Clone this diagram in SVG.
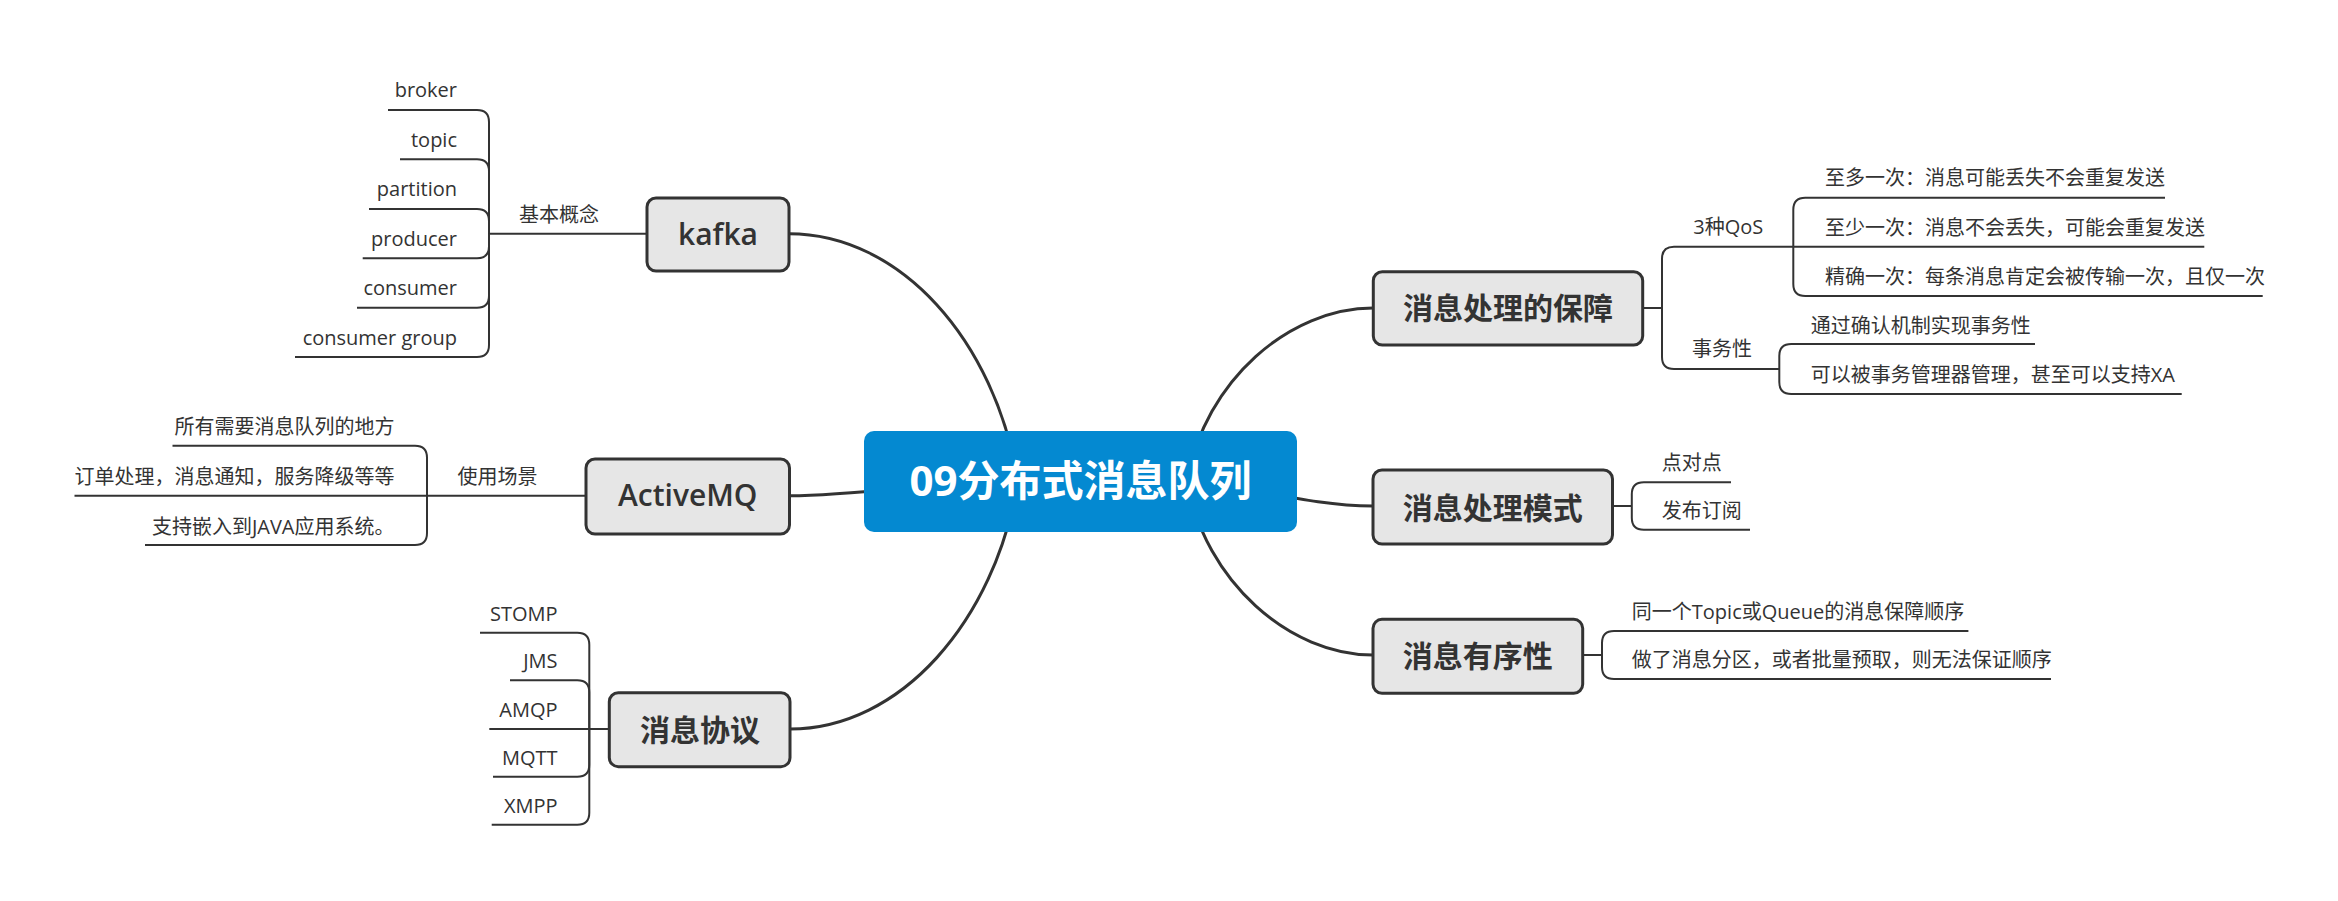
<svg xmlns="http://www.w3.org/2000/svg" width="2338" height="901" viewBox="0 0 2338 901">
<style>
  text { font-family: "Open Sans", "Noto Sans CJK SC", sans-serif; fill: #333333; }
  .leaf { font-size: 20px; }
  .leafL { font-size: 20px; text-anchor: end; }
  .lbl { font-size: 20px; }
  .box { fill: #e6e6e6; stroke: #333333; stroke-width: 3; }
  .nodeT { font-size: 30px; font-weight: 700; text-anchor: middle; }
  .nodeE { font-size: 30px; font-weight: 600; text-anchor: middle; }
  .main { fill: none; stroke: #333333; stroke-width: 3; }
  .sub { fill: none; stroke: #333333; stroke-width: 2; }
  .root { fill: #0489d1; }
  .rootT { font-size: 42px; font-weight: 700; text-anchor: middle; fill: #ffffff; }
</style>
<rect width="2338" height="901" fill="#ffffff"/>

<g id="connectors">
  <!-- main branches -->
  <path class="main" d="M789 233.7 C900 233.7 995 340 1018 481"/>
  <path class="main" d="M789.5 495.7 C860 495.7 940 481 1000 481"/>
  <path class="main" d="M790 729 C900 729 995 622 1018 481"/>
  <path class="main" d="M1373 308 C1290 308 1205 380 1187 481"/>
  <path class="main" d="M1373 506 C1300 506 1240 481 1180 481"/>
  <path class="main" d="M1373 655 C1290 655 1205 582 1187 481"/>

  <!-- kafka -->
  <path class="sub" d="M647 233.7 H489"/>
  <path class="sub" d="M489 233.7 V122 Q489 110 477 110 H388"/>
  <path class="sub" d="M489 233.7 V171.3 Q489 159.3 477 159.3 H400"/>
  <path class="sub" d="M489 233.7 V221 Q489 209 477 209 H369"/>
  <path class="sub" d="M489 233.7 V246.3 Q489 258.3 477 258.3 H362.7"/>
  <path class="sub" d="M489 233.7 V295.7 Q489 307.7 477 307.7 H357"/>
  <path class="sub" d="M489 233.7 V345 Q489 357 477 357 H295"/>

  <!-- ActiveMQ -->
  <path class="sub" d="M586 495.7 H427"/>
  <path class="sub" d="M427 495.7 V457.7 Q427 445.7 415 445.7 H172.5"/>
  <path class="sub" d="M427 495.7 H74.5"/>
  <path class="sub" d="M427 495.7 V533 Q427 545 415 545 H145"/>

  <!-- 消息协议 -->
  <path class="sub" d="M609.3 729 H589.3"/>
  <path class="sub" d="M589.3 729 V644.7 Q589.3 632.7 577.3 632.7 H480"/>
  <path class="sub" d="M589.3 729 V692.3 Q589.3 680.3 577.3 680.3 H510"/>
  <path class="sub" d="M589.3 729 H489.3"/>
  <path class="sub" d="M589.3 729 V764.7 Q589.3 776.7 577.3 776.7 H493"/>
  <path class="sub" d="M589.3 729 V812.7 Q589.3 824.7 577.3 824.7 H491.7"/>

  <!-- 消息处理的保障 -->
  <path class="sub" d="M1643 308 H1662"/>
  <path class="sub" d="M1662 308 V258.7 Q1662 246.7 1674 246.7 H1793.3"/>
  <path class="sub" d="M1662 308 V357 Q1662 369 1674 369 H1779.3"/>
  <path class="sub" d="M1793.3 246.7 V209.7 Q1793.3 197.7 1805.3 197.7 H2165"/>
  <path class="sub" d="M1793.3 246.7 H2204.3"/>
  <path class="sub" d="M1793.3 246.7 V284 Q1793.3 296 1805.3 296 H2262.7"/>
  <path class="sub" d="M1779.3 369 V356 Q1779.3 344 1791.3 344 H2035"/>
  <path class="sub" d="M1779.3 369 V382 Q1779.3 394 1791.3 394 H2181.7"/>

  <!-- 消息处理模式 -->
  <path class="sub" d="M1612.5 506 H1631.8"/>
  <path class="sub" d="M1631.8 506 V494.3 Q1631.8 482.3 1643.8 482.3 H1731"/>
  <path class="sub" d="M1631.8 506 V517.7 Q1631.8 529.7 1643.8 529.7 H1750"/>

  <!-- 消息有序性 -->
  <path class="sub" d="M1583 655 H1602"/>
  <path class="sub" d="M1602 655 V643 Q1602 631 1614 631 H1968.4"/>
  <path class="sub" d="M1602 655 V667 Q1602 679 1614 679 H2051"/>
</g>

<g id="root">
  <rect class="root" x="864" y="431" width="433" height="101" rx="10"/>
  <text class="rootT" x="1080.5" y="496">09分布式消息队列</text>
</g>

<g id="kafka">
  <rect class="box" x="647" y="198" width="142" height="73" rx="9"/>
  <text class="nodeE" x="718" y="244.5">kafka</text>
  <text class="lbl" x="519" y="221.7">基本概念</text>
  <text class="leafL" x="457" y="97">broker</text>
  <text class="leafL" x="457" y="146.5">topic</text>
  <text class="leafL" x="457" y="196">partition</text>
  <text class="leafL" x="457" y="245.5">producer</text>
  <text class="leafL" x="457" y="295">consumer</text>
  <text class="leafL" x="457" y="344.5">consumer group</text>
</g>

<g id="activemq">
  <rect class="box" x="586" y="459" width="203.5" height="75" rx="9"/>
  <text class="nodeE" x="687.7" y="506">ActiveMQ</text>
  <text class="lbl" x="457.5" y="484">使用场景</text>
  <text class="leafL" x="394.5" y="434">所有需要消息队列的地方</text>
  <text class="leafL" x="394.5" y="484">订单处理，消息通知，服务降级等等</text>
  <text class="leafL" x="394.5" y="533.5">支持嵌入到JAVA应用系统。</text>
</g>

<g id="protocol">
  <rect class="box" x="609.3" y="692.7" width="180.7" height="74" rx="9"/>
  <text class="nodeT" x="700" y="741">消息协议</text>
  <text class="leafL" x="557.5" y="620.7">STOMP</text>
  <text class="leafL" x="557.5" y="668.3">JMS</text>
  <text class="leafL" x="557.5" y="717">AMQP</text>
  <text class="leafL" x="557.5" y="764.7">MQTT</text>
  <text class="leafL" x="557.5" y="812.7">XMPP</text>
</g>

<g id="guarantee">
  <rect class="box" x="1373.3" y="271.7" width="269.4" height="73.3" rx="9"/>
  <text class="nodeT" x="1508" y="319">消息处理的保障</text>
  <text class="lbl" x="1693.3" y="234">3种QoS</text>
  <text class="lbl" x="1692" y="356">事务性</text>
  <text class="leaf" x="1825" y="185">至多一次：消息可能丢失不会重复发送</text>
  <text class="leaf" x="1825" y="235">至少一次：消息不会丢失，可能会重复发送</text>
  <text class="leaf" x="1825" y="284">精确一次：每条消息肯定会被传输一次，且仅一次</text>
  <text class="leaf" x="1810.7" y="333">通过确认机制实现事务性</text>
  <text class="leaf" x="1810.7" y="382">可以被事务管理器管理，甚至可以支持XA</text>
</g>

<g id="mode">
  <rect class="box" x="1373" y="470" width="239.5" height="74" rx="9"/>
  <text class="nodeT" x="1492.7" y="518.5">消息处理模式</text>
  <text class="leaf" x="1661.7" y="469.5">点对点</text>
  <text class="leaf" x="1661.7" y="517.5">发布订阅</text>
</g>

<g id="order">
  <rect class="box" x="1373" y="619.3" width="209.7" height="74" rx="9"/>
  <text class="nodeT" x="1477.8" y="667">消息有序性</text>
  <text class="leaf" x="1631.8" y="619">同一个Topic或Queue的消息保障顺序</text>
  <text class="leaf" x="1631.8" y="667">做了消息分区，或者批量预取，则无法保证顺序</text>
</g>
</svg>
